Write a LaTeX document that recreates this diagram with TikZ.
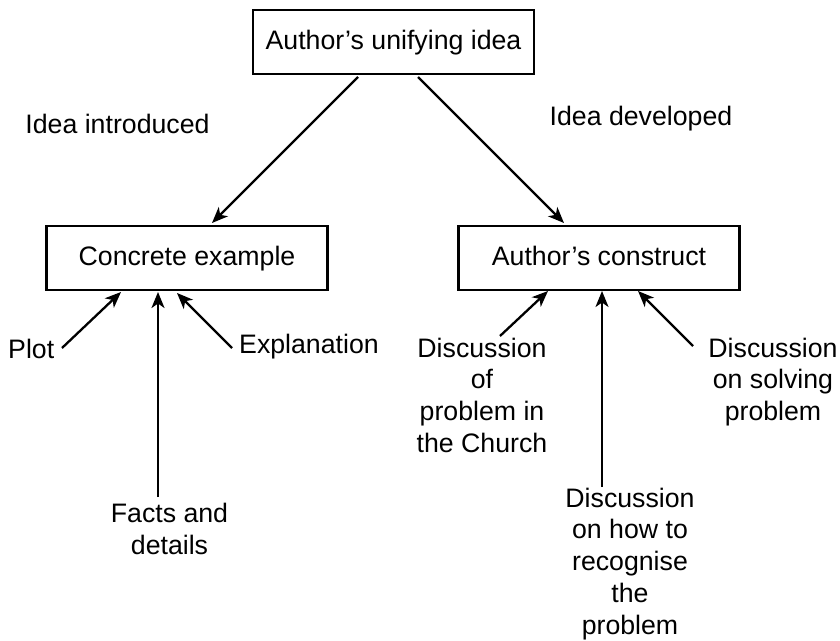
\documentclass[tikz,border=0pt]{standalone}
\usepackage{fontspec}
\setmainfont{Liberation Sans}
\usetikzlibrary{arrows.meta}
\begin{document}
\begin{tikzpicture}[x=1pt,y=-1pt,
  every node/.style={font=\fontsize{26.7}{31.7}\selectfont},
  box/.style={draw,line width=2.3pt,minimum width=281pt,minimum height=64pt,inner sep=0pt,text height=19.5pt,text depth=5.5pt},
  lbl/.style={inner sep=0pt,align=center,anchor=north},
  arr/.style={line width=2.3pt,-{Stealth[length=16pt,width=13pt,inset=4.5pt]}}]
\useasboundingbox (0,0) rectangle (840,640);
\node[box] (top) at (393.5,42) {Author’s unifying idea};
\node[box] (concrete) at (187,258) {Concrete example};
\node[box] (construct) at (599,258) {Author’s construct};
\node[inner sep=0pt,anchor=base] (intro) at (117.5,133) {Idea introduced};
\node[inner sep=0pt,anchor=base] (devel) at (641,125) {Idea developed};
\node[inner sep=0pt,anchor=base west] (plot) at (8,358) {Plot};
\node[inner sep=0pt,anchor=base west] (expl) at (239,353) {Explanation};
\node[lbl] (facts) at (169.5,503) {Facts and\\details};
\node[lbl] (church) at (482,337.7) {Discussion\\of\\problem in\\the Church};
\node[lbl] (solving) at (773,337.7) {Discussion\\on solving\\problem};
\node[lbl] (recog) at (630,487.7) {Discussion\\on how to\\recognise\\the\\problem};
\coordinate (t1) at (358,77);
\coordinate (t2) at (418,77);
\coordinate (c1) at (212,223);
\coordinate (a1) at (564,223);
\coordinate (p0) at (62,348);
\coordinate (p1) at (121,292);
\coordinate (f0) at (158,497);
\coordinate (f1) at (158,292);
\coordinate (e0) at (232,348);
\coordinate (e1) at (177,293);
\coordinate (ch0) at (500,336);
\coordinate (ch1) at (548,291);
\coordinate (r0) at (602,487);
\coordinate (r1) at (602,291);
\coordinate (s0) at (693,346);
\coordinate (s1) at (638,291);
\draw[arr] (t1) -- (c1);
\draw[arr] (t2) -- (a1);
\draw[arr] (p0) -- (p1);
\draw[arr] (f0) -- (f1);
\draw[arr] (e0) -- (e1);
\draw[arr] (ch0) -- (ch1);
\draw[arr] (r0) -- (r1);
\draw[arr] (s0) -- (s1);
\end{tikzpicture}
\end{document}
